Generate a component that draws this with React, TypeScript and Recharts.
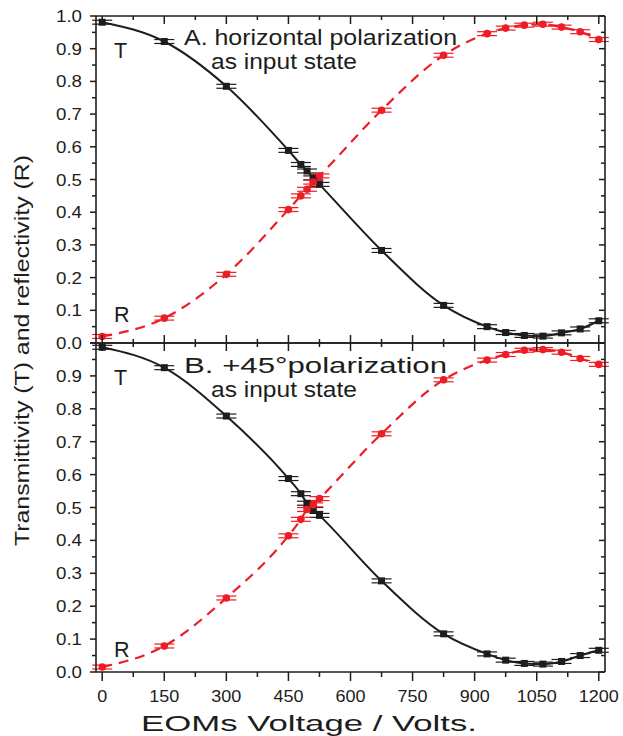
import React from "react";
import { ComposedChart, Line, XAxis, YAxis, ErrorBar } from "recharts";

// EOM voltages (V) of the measured points, same for both panels
const voltages = [0, 150, 300, 450, 480, 495, 510, 525, 675, 825, 930, 975, 1020, 1065, 1110, 1155, 1200];

// Panel A: horizontal polarization as input state
const transA = [0.981, 0.922, 0.785, 0.589, 0.546, 0.526, 0.505, 0.485, 0.283, 0.115, 0.05, 0.032, 0.023, 0.021, 0.031, 0.043, 0.068];
const reflA = [0.02, 0.076, 0.21, 0.408, 0.45, 0.47, 0.492, 0.511, 0.712, 0.88, 0.946, 0.963, 0.972, 0.975, 0.966, 0.952, 0.928];

// Panel B: +45 deg polarization as input state
const transB = [0.987, 0.925, 0.778, 0.588, 0.542, 0.513, 0.494, 0.476, 0.277, 0.116, 0.055, 0.036, 0.026, 0.024, 0.032, 0.05, 0.066];
const reflB = [0.015, 0.079, 0.225, 0.414, 0.464, 0.494, 0.508, 0.527, 0.724, 0.888, 0.948, 0.965, 0.978, 0.98, 0.972, 0.953, 0.935];

// error bars (small, same size on every point)
const errT = [0.006, 0.006, 0.006, 0.006, 0.006, 0.006, 0.006, 0.006, 0.006, 0.006, 0.006, 0.006, 0.006, 0.006, 0.006, 0.006, 0.006];
const errR = [0.006, 0.006, 0.006, 0.006, 0.006, 0.006, 0.006, 0.006, 0.006, 0.006, 0.006, 0.006, 0.006, 0.006, 0.006, 0.006, 0.006];

const xTicks = [0, 75, 150, 225, 300, 375, 450, 525, 600, 675, 750, 825, 900, 975, 1050, 1125, 1200];
const yTicks = [0, 0.05, 0.1, 0.15, 0.2, 0.25, 0.3, 0.35, 0.4, 0.45, 0.5, 0.55, 0.6, 0.65, 0.7, 0.75, 0.8, 0.85, 0.9, 0.95, 1.0];

const dataA = voltages.map((v, i) => ({ v, t: transA[i], r: reflA[i], te: errT[i], re: errR[i] }));
const dataB = voltages.map((v, i) => ({ v, t: transB[i], r: reflB[i], te: errT[i], re: errR[i] }));

const INK = "#1d1d1b";
const RED = "#ee1d25";
const FONT = "'Liberation Sans', Arial, Helvetica, sans-serif";

const isMajorY = (v: number) => Math.round(v * 100) % 10 === 0;
const isMajorX = (v: number) => v % 150 === 0;

const LeftTick = (props: any) => {
    const { x, y, payload, hideTop } = props;
    const major = isMajorY(payload.value);
    const len = major ? 6 : 4;
    const showLabel = major && !(hideTop && payload.value >= 1);
    return (
        <g>
            <line x1={x - len} y1={y} x2={x} y2={y} stroke={INK} strokeWidth={1.5} />
            {showLabel && (
                <text x={x - 14} y={y + 6} textAnchor="end" fontSize={17} textLength={26} lengthAdjust="spacingAndGlyphs" fill={INK} fontFamily={FONT}>
                    {payload.value.toFixed(1)}
                </text>
            )}
        </g>
    );
};

const RightTick = (props: any) => {
    const { x, y, payload } = props;
    const len = isMajorY(payload.value) ? 6 : 4;
    return <line x1={x - len} y1={y} x2={x} y2={y} stroke={INK} strokeWidth={1.5} />;
};

const TopTick = (props: any) => {
    const { x, y, payload } = props;
    const len = isMajorX(payload.value) ? 8 : 4;
    return <line x1={x} y1={y} x2={x} y2={y + len} stroke={INK} strokeWidth={1.5} />;
};

const InnerBottomTick = (props: any) => {
    const { x, y, payload } = props;
    const len = isMajorX(payload.value) ? 8 : 4;
    return <line x1={x} y1={y - len} x2={x} y2={y} stroke={INK} strokeWidth={1.5} />;
};

const OuterBottomTick = (props: any) => {
    const { x, y, payload } = props;
    const major = isMajorX(payload.value);
    const len = major ? 9 : 5;
    const label = String(payload.value);
    return (
        <g>
            <line x1={x} y1={y} x2={x} y2={y + len} stroke={INK} strokeWidth={1.5} />
            {major && (
                <text x={x} y={y + 30} textAnchor="middle" fontSize={17} textLength={label.length * 10} lengthAdjust="spacingAndGlyphs" fill={INK} fontFamily={FONT}>
                    {label}
                </text>
            )}
        </g>
    );
};

const squareDot = (p: any) => (
    <rect key={`s-${p.index}`} x={p.cx - 3.5} y={p.cy - 3.5} width={7} height={7} fill={INK} />
);
const roundDot = (p: any) => (
    <circle key={`c-${p.index}`} cx={p.cx} cy={p.cy} r={3.8} fill={RED} />
);

const axisLine = { stroke: INK, strokeWidth: 1.6 };

const Panel = ({ data, height, margin, bottomOuter, hideTop }: any) => (
    <ComposedChart width={623} height={height} data={data} margin={margin}>
        <XAxis
            xAxisId="b"
            dataKey="v"
            type="number"
            domain={[-15, 1215]}
            allowDataOverflow
            ticks={xTicks}
            interval={0}
            height={1}
            tickSize={0}
            tickMargin={0}
            tickLine={false}
            axisLine={axisLine}
            tick={bottomOuter ? <OuterBottomTick /> : <InnerBottomTick />}
        />
        <XAxis
            xAxisId="t"
            orientation="top"
            dataKey="v"
            type="number"
            domain={[-15, 1215]}
            allowDataOverflow
            ticks={xTicks}
            interval={0}
            height={1}
            tickSize={0}
            tickMargin={0}
            tickLine={false}
            axisLine={axisLine}
            tick={<TopTick />}
        />
        <YAxis
            yAxisId="l"
            type="number"
            domain={[0, 1]}
            allowDataOverflow
            ticks={yTicks}
            interval={0}
            width={1}
            tickSize={0}
            tickMargin={0}
            tickLine={false}
            axisLine={axisLine}
            tick={<LeftTick hideTop={hideTop} />}
        />
        <YAxis
            yAxisId="r"
            orientation="right"
            type="number"
            domain={[0, 1]}
            allowDataOverflow
            ticks={yTicks}
            interval={0}
            width={1}
            tickSize={0}
            tickMargin={0}
            tickLine={false}
            axisLine={axisLine}
            tick={<RightTick />}
        />
        <Line
            xAxisId="b"
            yAxisId="l"
            type="monotone"
            dataKey="t"
            stroke={INK}
            strokeWidth={2}
            dot={squareDot}
            activeDot={false}
            isAnimationActive={false}
        >
            <ErrorBar dataKey="te" direction="y" width={10} stroke={INK} strokeWidth={1.2} isAnimationActive={false} />
        </Line>
        <Line
            xAxisId="b"
            yAxisId="l"
            type="monotone"
            dataKey="r"
            stroke={RED}
            strokeWidth={2.2}
            strokeDasharray="10 7"
            dot={roundDot}
            activeDot={false}
            isAnimationActive={false}
        >
            <ErrorBar dataKey="re" direction="y" width={10} stroke={RED} strokeWidth={1.2} isAnimationActive={false} />
        </Line>
    </ComposedChart>
);

export default function App() {
    const txt = { fill: INK, fontFamily: FONT } as const;
    return (
        <div style={{ position: "absolute", left: 0, top: 0, width: 623, height: 736, background: "#fff" }}>
            <div style={{ position: "absolute", left: 0, top: 342 }}>
                <Panel data={dataB} height={394} margin={{ top: 0, right: 17, bottom: 63, left: 95 }} bottomOuter hideTop />
            </div>
            <div style={{ position: "absolute", left: 0, top: 0 }}>
                <Panel data={dataA} height={364} margin={{ top: 15, right: 17, bottom: 20, left: 95 }} />
            </div>
            <svg width={623} height={736} style={{ position: "absolute", left: 0, top: 0, pointerEvents: "none" }}>
                {/* panel labels */}
                <text x={184} y={44.5} fontSize={22} textLength={273} lengthAdjust="spacingAndGlyphs" {...txt}>
                    A. horizontal polarization
                </text>
                <text x={211} y={68.5} fontSize={22} textLength={146} lengthAdjust="spacingAndGlyphs" {...txt}>
                    as input state
                </text>
                <text x={184} y={373.3} fontSize={22} textLength={263} lengthAdjust="spacingAndGlyphs" {...txt}>
                    B. +45°polarization
                </text>
                <text x={211} y={397} fontSize={22} textLength={146} lengthAdjust="spacingAndGlyphs" {...txt}>
                    as input state
                </text>
                <text x={114} y={58} fontSize={21.5} {...txt}>T</text>
                <text x={114} y={322} fontSize={21.5} {...txt}>R</text>
                <text x={114} y={385} fontSize={21.5} {...txt}>T</text>
                <text x={114} y={657} fontSize={21.5} {...txt}>R</text>
                {/* axis titles */}
                <text x={141} y={731} fontSize={22} textLength={336} lengthAdjust="spacingAndGlyphs" {...txt}>
                    EOMs Voltage / Volts.
                </text>
                <text transform="translate(29 546) rotate(-90)" x={0} y={0} fontSize={20} textLength={391} lengthAdjust="spacingAndGlyphs" {...txt}>
                    Transmittivity (T) and reflectivity (R)
                </text>
            </svg>
        </div>
    );
}
